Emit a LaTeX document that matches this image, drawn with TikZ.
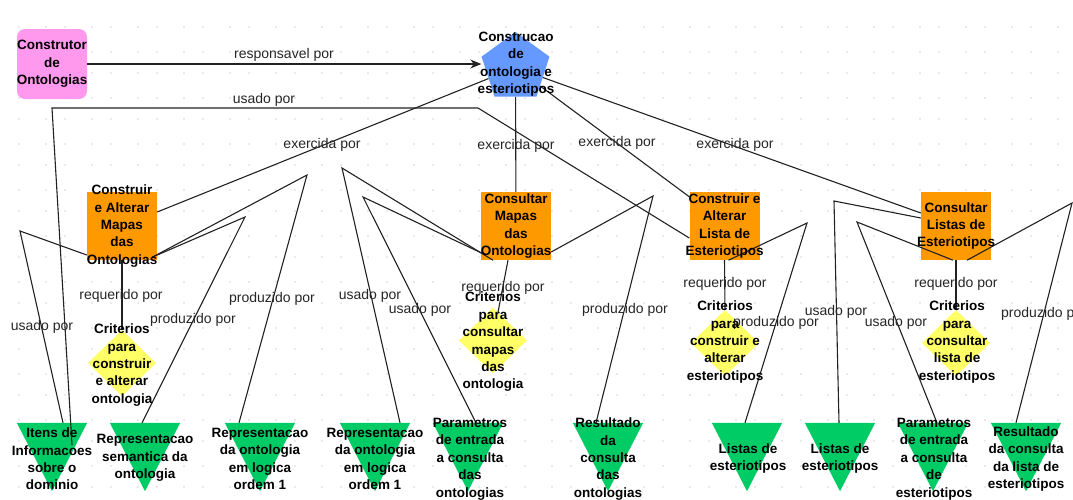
\documentclass[tikz,border=0pt]{standalone}
\usepackage{fontspec}
\setmainfont{Liberation Sans}
\usetikzlibrary{shapes.geometric,arrows.meta,calc}
\definecolor{pinkfill}{HTML}{FF99EE}
\definecolor{bluefill}{HTML}{6699FF}
\definecolor{orangefill}{HTML}{FF9900}
\definecolor{yellowfill}{HTML}{FFFF66}
\definecolor{greenfill}{HTML}{00CC66}
\definecolor{griddot}{HTML}{D6D6D6}
\definecolor{linecol}{HTML}{222222}

\begin{document}
\begin{tikzpicture}[x=1pt,y=-1pt,
  actor/.style={rectangle, rounded corners=8pt, fill=pinkfill, minimum width=70pt, minimum height=70pt, inner sep=0pt},
  goal/.style={regular polygon, regular polygon sides=5, fill=bluefill, minimum size=71.4pt, inner sep=0pt},
  task/.style={rectangle, fill=orangefill, minimum width=70pt, minimum height=68pt, inner sep=0pt},
  rule/.style={diamond, fill=yellowfill, minimum width=68pt, minimum height=66pt, inner sep=0pt},
  slot/.style={rectangle, minimum width=70pt, minimum height=68pt, inner sep=0pt},
  caption/.style={font=\bfseries\fontsize{13.5}{17.4}\selectfont, align=center, inner sep=0pt, text=black},
  link/.style={draw=linecol, line width=1.1pt},
  rel/.style={font=\fontsize{14}{17}\selectfont, inner sep=0pt, text=black!85},
]
\useasboundingbox (0,0) rectangle (1073,499);
\fill[white] (0,0) rectangle (1073,499);

% faint dotted canvas grid
\begin{scope}
  \clip (11,13) rectangle (1073,499);
  \foreach \i in {0,...,23} {
    \foreach \j in {0,...,10} {
      \fill[griddot] (46*\i, 46*\j+6) circle (0.8);
      \fill[griddot] (46*\i+19, 46*\j+6) circle (0.8);
      \fill[griddot] (46*\i, 46*\j+27) circle (0.8);
      \fill[griddot] (46*\i+19, 46*\j+27) circle (0.8);
    }
  }
\end{scope}

\begin{scope}
\clip (11,0) rectangle (1073,499);

% ---------- shapes ----------
\node[actor] (C0) at (52,64) {};
\node[goal]  (P)  at (515.5,67.7) {};

\node[task] (A) at (122,226) {};
\node[task] (B) at (516,226) {};
\node[task] (C) at (724.5,226) {};
\node[task] (D) at (956,226) {};

\node[rule] (D1) at (122,363) {};
\node[rule] (D2) at (493,340.5) {};
\node[rule] (D3) at (725,343) {};
\node[rule] (D4) at (956,343) {};

\foreach \n/\x in {T1/52, T2/145, T3/260, T4/375, T5/468, T6/608, T7/747, T8/840, T9/933, T10/1026} {
  \node[slot] (\n) at (\x,457) {};
  \fill[greenfill] (\n.north west) -- (\n.north east) -- (\n.south) -- cycle;
}

% ---------- waypoints ----------
\coordinate (u1) at (52,108);
\coordinate (u2) at (478,108);
\coordinate (a1) at (20,231);
\coordinate (a2) at (245,217);
\coordinate (a3) at (307,175);
\coordinate (b1) at (342,168);
\coordinate (b2) at (363,197);
\coordinate (b3) at (653,196);
\coordinate (c1) at (807,223);
\coordinate (d1) at (834,201);
\coordinate (d2) at (857,222);
\coordinate (d3) at (1072,203);

% ---------- connectors ----------
\draw[link, -{Stealth[length=11pt,width=9pt]}] (C0.east) -- (P.corner 2 |- C0.east);
\draw[link] ([xshift=20,yshift=-22]T1.north) -- (u1) -- (u2) -- ([yshift=-12]C.west);

\draw[link] (P) -- ([yshift=14]A.east);
\draw[link] (P) -- (B);
\draw[link] (P) -- ([yshift=-5]C.north west);
\draw[link] (P) -- ([yshift=13]D.west);

\draw[link] (A.south) -- (D1.north);
\draw[link] ([yshift=-29]A.west) -- (a1) -- ([xshift=11]T1.north);
\draw[link] ([xshift=-5,yshift=3]A.south east) -- (a2) -- ([xshift=-3]T2.north);
\draw[link] ([xshift=-5,yshift=3]A.south east) -- (a3) -- ([xshift=-21]T3.north);

\draw[link] ([xshift=-8]B.south) -- ([xshift=5,yshift=-5]D2.north);
\draw[link] ([xshift=-23]B.south) -- (b1) -- ([xshift=25]T4.north);
\draw[link] ([xshift=5,yshift=-29]B.west) -- (b2) -- ([xshift=8]T5.north);
\draw[link] ([yshift=-26]B.east) -- (b3) -- ([xshift=-12]T6.north);

\draw[link] (C.south) -- (D3.north);
\draw[link] ([xshift=4]C.south) -- (c1) -- ([xshift=-2]T7.north);

\draw[link] (D.south) -- (D4.north);
\draw[link] ([yshift=8]D.west) -- (d1) -- ([xshift=-1]T8.north);
\draw[link] ([xshift=-3]D.south) -- (d2) -- ([xshift=4]T9.north);
\draw[link] ([xshift=11]D.south) -- (d3) -- ([xshift=-10]T10.north);

% ---------- connector labels ----------
\node[rel] (l1)  at (284,55)  {responsavel por};
\node[rel] (l2)  at (264,100) {usado por};
\node[rel] (l3)  at (322,145) {exercida por};
\node[rel] (l4)  at (516,146) {exercida por};
\node[rel] (l5)  at (617,143) {exercida por};
\node[rel] (l6)  at (735,145) {exercida por};
\node[rel] (l7)  at (121,296) {requerido por};
\node[rel] (l8)  at (42,327)  {usado por};
\node[rel] (l9)  at (193,320) {produzido por};
\node[rel] (l10) at (272,299) {produzido por};
\node[rel] (l11) at (503,288) {requerido por};
\node[rel] (l12) at (370,296) {usado por};
\node[rel] (l13) at (420,310) {usado por};
\node[rel] (l14) at (625,310) {produzido por};
\node[rel] (l15) at (725,284) {requerido por};
\node[rel] (l16) at (776,323) {produzido por};
\node[rel] (l17) at (956,284) {requerido por};
\node[rel] (l18) at (836,312) {usado por};
\node[rel] (l19) at (896,323) {usado por};
\node[rel] (l20) at (1044,314) {produzido por};

% ---------- node captions ----------
\node[caption] (C0t) at (52,64)   {Construtor\\de\\Ontologias};
\node[caption] (Pt)  at (516,64)  {Construcao\\de\\ontologia e\\esteriotipos};
\node[caption] (At)  at (122,226) {Construir\\e Alterar\\Mapas\\das\\Ontologias};
\node[caption] (Bt)  at (516,226) {Consultar\\Mapas\\das\\Ontologias};
\node[caption] (Ct)  at (724.5,226) {Construir e\\Alterar\\Lista de\\Esteriotipos};
\node[caption] (Dt)  at (956,226) {Consultar\\Listas de\\Esteriotipos};

\node[caption] (D1t) at (122,365) {Criterios\\para\\construir\\e alterar\\ontologia};
\node[caption] (D2t) at (493,342) {Criterios\\para\\consultar\\mapas\\das\\ontologia};
\node[caption] (D3t) at (725,342) {Criterios\\para\\construir e\\alterar\\esteriotipos};
\node[caption] (D4t) at (957,342) {Criterios\\para\\consultar\\lista de\\esteriotipos};

\node[caption] (T1t)  at (52,459)  {Itens de\\Informacoes\\sobre o\\dominio};
\node[caption] (T2t)  at (145,458) {Representacao\\semantica da\\ontologia};
\node[caption] (T3t)  at (260,459) {Representacao\\da ontologia\\em logica\\ordem 1};
\node[caption] (T4t)  at (375,459) {Representacao\\da ontologia\\em logica\\ordem 1};
\node[caption] (T5t)  at (470,459) {Parametros\\de entrada\\a consulta\\das\\ontologias};
\node[caption] (T6t)  at (608,459) {Resultado\\da\\consulta\\das\\ontologias};
\node[caption] (T7t)  at (748,458.5) {Listas de\\esteriotipos};
\node[caption] (T8t)  at (840,458.5) {Listas de\\esteriotipos};
\node[caption] (T9t)  at (934,459) {Parametros\\de entrada\\a consulta\\de\\esteriotipos};
\node[caption] (T10t) at (1026,459) {Resultado\\da consulta\\da lista de\\esteriotipos};
\end{scope}
\end{tikzpicture}
\end{document}
